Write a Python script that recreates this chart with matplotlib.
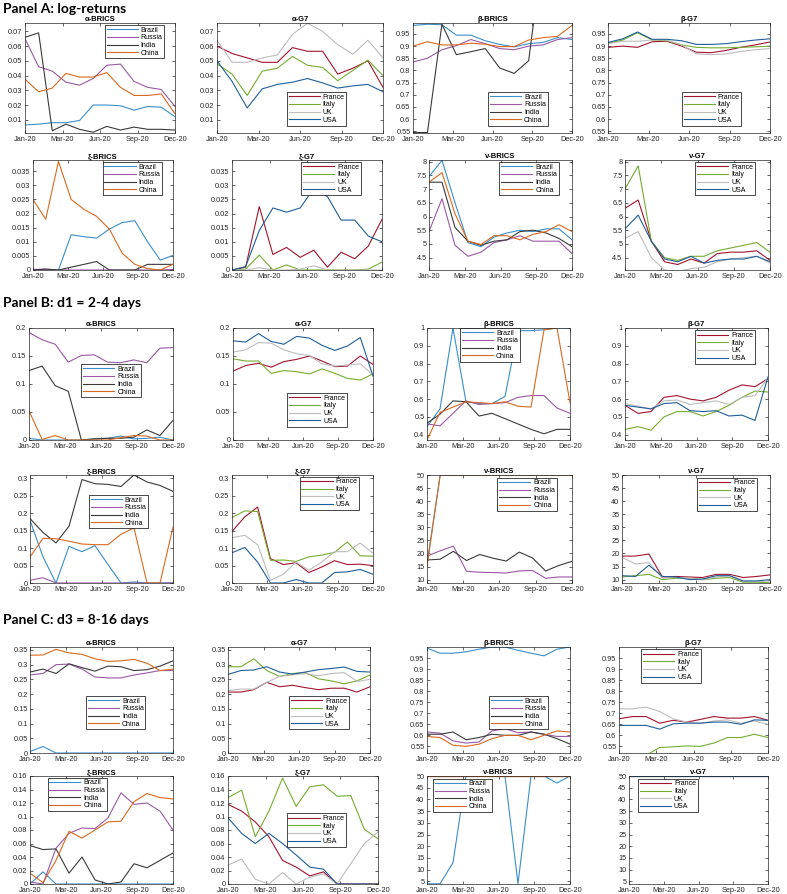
import numpy as np
import matplotlib
matplotlib.use('Agg')
import matplotlib.pyplot as plt
from matplotlib.ticker import FormatStrFormatter

plt.rcParams['font.family'] = ['Liberation Sans', 'DejaVu Sans']

tick_labels = ['Jan-20', 'Mar-20', 'Jun-20', 'Sep-20', 'Dec-20']
brics = ['Brazil', 'Russia', 'India', 'China']
g7 = ['France', 'Italy', 'UK', 'USA']
brics_colors = ['#3A8FC9', '#9B59A6', '#3A3A3A', '#D9691F']
g7_colors = ['#A2142F', '#77AC30', '#BDBDBD', '#1F5F99']

# ---- Panel A: log-returns (Brazil/Russia/India/China, France/Italy/UK/USA) ----
a_alpha_brics = [
    [0.0065, 0.007, 0.008, 0.008, 0.0095, 0.020, 0.020, 0.0195, 0.0165, 0.019, 0.0185, 0.012],
    [0.065, 0.046, 0.043, 0.0355, 0.0335, 0.038, 0.047, 0.0478, 0.036, 0.032, 0.0305, 0.019],
    [0.066, 0.069, 0.0025, 0.007, 0.0035, 0.0015, 0.0055, 0.003, 0.005, 0.0035, 0.0035, 0.003],
    [0.0375, 0.029, 0.0315, 0.0415, 0.039, 0.039, 0.042, 0.032, 0.0265, 0.0265, 0.0275, 0.014],
]
a_alpha_g7 = [
    [0.060, 0.055, 0.052, 0.049, 0.049, 0.059, 0.0565, 0.0565, 0.041, 0.045, 0.050, 0.032],
    [0.048, 0.041, 0.0265, 0.043, 0.045, 0.053, 0.047, 0.0455, 0.0365, 0.0435, 0.0505, 0.040],
    [0.064, 0.049, 0.049, 0.052, 0.054, 0.068, 0.0755, 0.070, 0.061, 0.0545, 0.064, 0.052],
    [0.050, 0.036, 0.018, 0.031, 0.034, 0.0355, 0.038, 0.035, 0.0315, 0.033, 0.034, 0.029],
]
a_beta_brics = [
    [0.985, 0.99, 0.988, 0.945, 0.945, 0.922, 0.907, 0.897, 0.91, 0.915, 0.935, 0.927],
    [0.835, 0.85, 0.885, 0.902, 0.927, 0.91, 0.89, 0.885, 0.90, 0.905, 0.927, 0.935],
    [0.545, 0.545, 0.99, 0.865, 0.877, 0.89, 0.81, 0.788, 0.84, 1.3, 1.3, 1.3],
    [0.90, 0.918, 0.905, 0.905, 0.912, 0.908, 0.898, 0.898, 0.925, 0.935, 0.94, 0.985],
]
a_beta_g7 = [
    [0.895, 0.90, 0.895, 0.918, 0.92, 0.90, 0.875, 0.873, 0.882, 0.895, 0.905, 0.917],
    [0.912, 0.925, 0.955, 0.925, 0.922, 0.905, 0.895, 0.893, 0.893, 0.895, 0.897, 0.90],
    [0.91, 0.92, 0.92, 0.925, 0.925, 0.905, 0.868, 0.865, 0.868, 0.878, 0.885, 0.89],
    [0.915, 0.93, 0.958, 0.928, 0.928, 0.922, 0.907, 0.907, 0.91, 0.918, 0.925, 0.93],
]
a_xi_brics = [
    [0.0, 0.0, 0.0, 0.0125, 0.0118, 0.0113, 0.0145, 0.0168, 0.0175, 0.010, 0.0035, 0.0052],
    [0.0002, 0.0003, 0.0, 0.0, 0.0, 0.0, 0.0, 0.0, 0.0, 0.0, 0.0, 0.0002],
    [0.0, 0.0003, 0.0, 0.001, 0.002, 0.003, 0.0, 0.0, 0.0, 0.002, 0.002, 0.002],
    [0.025, 0.018, 0.0385, 0.025, 0.0215, 0.019, 0.0145, 0.006, 0.002, 0.0005, 0.0, 0.002],
]
a_xi_g7 = [
    [0.0, 0.001, 0.0225, 0.0055, 0.008, 0.0045, 0.007, 0.001, 0.0063, 0.004, 0.0085, 0.018],
    [0.0, 0.0003, 0.0053, 0.0, 0.0018, 0.0, 0.0, 0.0, 0.0, 0.0, 0.0003, 0.0028],
    [0.0, 0.0, 0.0008, 0.0, 0.0, 0.0003, 0.0015, 0.0, 0.0, 0.0, 0.0, 0.0],
    [0.0, 0.0012, 0.014, 0.022, 0.0205, 0.022, 0.029, 0.026, 0.0177, 0.0177, 0.012, 0.010],
]
a_nu_brics = [
    [7.45, 8.05, 6.5, 5.05, 4.9, 5.25, 5.4, 5.5, 5.45, 5.55, 5.55, 5.15],
    [5.45, 6.65, 4.95, 4.55, 4.7, 5.05, 5.15, 5.3, 5.1, 5.1, 5.1, 4.65],
    [7.25, 7.25, 5.6, 5.1, 4.95, 5.1, 5.15, 5.45, 5.5, 5.4, 5.2, 4.9],
    [7.25, 7.6, 6.1, 5.1, 4.98, 5.3, 5.3, 5.15, 5.35, 5.45, 5.7, 5.45],
]
a_nu_g7 = [
    [6.3, 6.6, 5.1, 4.35, 4.25, 4.45, 4.3, 4.65, 4.7, 4.7, 4.75, 4.4],
    [7.0, 7.85, 5.1, 4.5, 4.4, 4.55, 4.55, 4.75, 4.85, 4.95, 5.05, 4.7],
    [5.2, 5.45, 4.5, 4.05, 4.0, 4.1, 4.15, 4.35, 4.45, 4.5, 4.55, 4.3],
    [5.55, 6.05, 5.1, 4.45, 4.35, 4.55, 4.3, 4.4, 4.45, 4.45, 4.55, 4.35],
]

# ---- Panel B: d1 = 2-4 days ----
b_alpha_brics = [
    [0.003, 0.0, 0.0, 0.0, 0.0, 0.002, 0.003, 0.007, 0.002, 0.003, 0.005, 0.0],
    [0.192, 0.179, 0.171, 0.139, 0.151, 0.152, 0.139, 0.138, 0.143, 0.138, 0.164, 0.165],
    [0.124, 0.132, 0.097, 0.087, 0.0, 0.002, 0.003, 0.003, 0.005, 0.018, 0.008, 0.035],
    [0.052, 0.001, 0.008, 0.0, 0.0, 0.0, 0.0, 0.004, 0.008, 0.007, 0.0, 0.0],
]
b_alpha_g7 = [
    [0.123, 0.133, 0.137, 0.130, 0.140, 0.144, 0.150, 0.141, 0.131, 0.132, 0.150, 0.135],
    [0.145, 0.141, 0.141, 0.119, 0.124, 0.122, 0.118, 0.127, 0.119, 0.110, 0.107, 0.118],
    [0.157, 0.161, 0.174, 0.173, 0.161, 0.154, 0.151, 0.136, 0.132, 0.134, 0.136, 0.116],
    [0.177, 0.175, 0.190, 0.176, 0.171, 0.185, 0.182, 0.169, 0.160, 0.168, 0.183, 0.114],
]
b_beta_brics = [
    [0.445, 0.545, 1.0, 0.585, 0.575, 0.575, 0.615, 0.985, 0.985, 0.99, 1.0, 1.0],
    [0.46, 0.45, 0.52, 0.59, 0.57, 0.575, 0.58, 0.61, 0.62, 0.62, 0.55, 0.52],
    [0.465, 0.515, 0.59, 0.585, 0.505, 0.52, 0.49, 0.46, 0.43, 0.405, 0.43, 0.43],
    [0.37, 0.525, 0.555, 0.585, 0.58, 0.575, 0.585, 0.56, 0.555, 0.99, 1.0, 0.58],
]
b_beta_g7 = [
    [0.565, 0.52, 0.53, 0.61, 0.62, 0.60, 0.59, 0.61, 0.65, 0.68, 0.67, 0.715],
    [0.43, 0.445, 0.425, 0.50, 0.53, 0.53, 0.505, 0.53, 0.565, 0.61, 0.645, 0.64],
    [0.575, 0.56, 0.545, 0.59, 0.595, 0.57, 0.58, 0.59, 0.57, 0.61, 0.62, 0.72],
    [0.565, 0.555, 0.545, 0.575, 0.58, 0.535, 0.53, 0.535, 0.505, 0.51, 0.48, 0.725],
]
b_xi_brics = [
    [0.18, 0.075, 0.0, 0.105, 0.09, 0.107, 0.053, 0.0, 0.003, 0.0, 0.0, 0.0],
    [0.008, 0.015, 0.0, 0.0, 0.0, 0.0, 0.0, 0.0, 0.0, 0.0, 0.0, 0.0],
    [0.185, 0.145, 0.115, 0.163, 0.297, 0.285, 0.283, 0.277, 0.31, 0.29, 0.28, 0.263],
    [0.075, 0.128, 0.127, 0.12, 0.112, 0.11, 0.11, 0.14, 0.158, 0.0, 0.0, 0.16],
]
b_xi_g7 = [
    [0.148, 0.19, 0.218, 0.07, 0.053, 0.058, 0.03, 0.046, 0.064, 0.053, 0.054, 0.05],
    [0.188, 0.207, 0.205, 0.065, 0.066, 0.062, 0.075, 0.08, 0.088, 0.118, 0.078, 0.077],
    [0.13, 0.137, 0.11, 0.008, 0.025, 0.06, 0.037, 0.06, 0.09, 0.09, 0.115, 0.085],
    [0.087, 0.102, 0.06, 0.0, 0.0, 0.01, 0.0, 0.0, 0.03, 0.032, 0.039, 0.025],
]
b_nu_brics = [
    [16, 50, 50, 50, 50, 50, 50, 50, 50, 50, 50, 50],
    [19, 21, 22.8, 13.2, 12.8, 12.7, 12.5, 13.3, 13.5, 10.5, 11, 11],
    [17.5, 17.8, 20.8, 17.3, 19.6, 18.2, 17.1, 20.5, 18.3, 13.3, 15.4, 17.0],
    [15, 50, 50, 50, 50, 50, 50, 50, 50, 50, 50, 50],
]
b_nu_g7 = [
    [19, 19, 19.8, 11, 11.2, 11, 10.8, 12, 12, 10.8, 11.2, 11.8],
    [11, 11.5, 12, 10, 10.5, 10.5, 10, 10.5, 10.8, 9, 9, 8.8],
    [18.5, 16, 16.5, 10.5, 10.8, 10.5, 10, 11, 11.5, 9.5, 9.2, 9.5],
    [11.5, 11.2, 15.5, 11.2, 11, 10, 10.2, 11.5, 11.5, 9.5, 9.5, 10],
]

# ---- Panel C: d3 = 8-16 days ----
c_alpha_brics = [
    [0.005, 0.022, 0.0, 0.0, 0.0, 0.0, 0.0, 0.0, 0.0, 0.0, 0.0, 0.0],
    [0.265, 0.27, 0.30, 0.302, 0.285, 0.258, 0.255, 0.255, 0.265, 0.272, 0.28, 0.28],
    [0.275, 0.285, 0.27, 0.303, 0.29, 0.278, 0.295, 0.293, 0.28, 0.283, 0.295, 0.313],
    [0.332, 0.333, 0.352, 0.34, 0.335, 0.32, 0.311, 0.313, 0.318, 0.305, 0.28, 0.285],
]
c_alpha_g7 = [
    [0.207, 0.207, 0.215, 0.24, 0.225, 0.23, 0.222, 0.215, 0.22, 0.22, 0.207, 0.225],
    [0.293, 0.293, 0.32, 0.28, 0.26, 0.27, 0.273, 0.252, 0.245, 0.235, 0.245, 0.265],
    [0.212, 0.217, 0.217, 0.24, 0.26, 0.265, 0.27, 0.262, 0.27, 0.273, 0.243, 0.25],
    [0.267, 0.28, 0.282, 0.293, 0.275, 0.268, 0.275, 0.283, 0.287, 0.292, 0.277, 0.275],
]
c_beta_brics = [
    [0.995, 0.972, 0.972, 0.978, 0.99, 1.0, 1.0, 0.985, 0.972, 0.96, 0.99, 1.0],
    [0.615, 0.61, 0.575, 0.565, 0.57, 0.62, 0.63, 0.612, 0.615, 0.605, 0.595, 0.595],
    [0.605, 0.605, 0.615, 0.58, 0.59, 0.605, 0.60, 0.60, 0.615, 0.605, 0.585, 0.56],
    [0.595, 0.59, 0.555, 0.55, 0.56, 0.585, 0.60, 0.60, 0.58, 0.60, 0.62, 0.615],
]
c_beta_g7 = [
    [0.675, 0.685, 0.685, 0.655, 0.668, 0.66, 0.672, 0.685, 0.678, 0.678, 0.685, 0.668],
    [0.50, 0.50, 0.51, 0.545, 0.548, 0.552, 0.55, 0.565, 0.59, 0.59, 0.605, 0.59],
    [0.72, 0.72, 0.728, 0.708, 0.675, 0.66, 0.655, 0.665, 0.67, 0.655, 0.665, 0.65],
    [0.645, 0.645, 0.645, 0.628, 0.652, 0.655, 0.655, 0.66, 0.66, 0.65, 0.67, 0.668],
]
c_xi_brics = [
    [0.0, 0.018, 0.0, 0.0, 0.0, 0.0, 0.0, 0.0, 0.0, 0.0, 0.0, 0.0],
    [0.003, 0.0, 0.053, 0.075, 0.083, 0.082, 0.098, 0.135, 0.118, 0.12, 0.108, 0.08],
    [0.057, 0.051, 0.052, 0.016, 0.04, 0.006, 0.0, 0.003, 0.03, 0.024, 0.035, 0.046],
    [0.016, 0.002, 0.035, 0.078, 0.068, 0.08, 0.092, 0.093, 0.122, 0.134, 0.128, 0.126],
]
c_xi_g7 = [
    [0.118, 0.108, 0.092, 0.07, 0.035, 0.025, 0.012, 0.018, 0.0, 0.0, 0.0, 0.0],
    [0.128, 0.139, 0.07, 0.108, 0.157, 0.115, 0.144, 0.147, 0.13, 0.131, 0.081, 0.067],
    [0.028, 0.037, 0.007, 0.0, 0.017, 0.0, 0.01, 0.015, 0.0, 0.03, 0.06, 0.077],
    [0.098, 0.075, 0.06, 0.075, 0.06, 0.043, 0.025, 0.022, 0.0, 0.0, 0.0, 0.0],
]
c_nu_brics = [
    [4, 4, 13, 50, 50, 50, 50, 4, 50, 50, 47, 50],
    [50, 50, 50, 50, 50, 50, 50, 50, 50, 50, 50, 50],
    [50, 50, 50, 50, 50, 50, 50, 50, 50, 50, 50, 50],
    [50, 50, 50, 50, 50, 50, 50, 50, 50, 50, 50, 50],
]
c_nu_g7 = [
    [50, 50, 50, 50, 50, 50, 50, 50, 50, 50, 50, 50],
    [50, 50, 50, 50, 50, 50, 50, 50, 50, 50, 50, 50],
    [50, 50, 50, 50, 50, 50, 50, 50, 50, 50, 50, 50],
    [50, 50, 50, 50, 50, 50, 50, 50, 50, 50, 50, 50],
]

W, H = 787, 894
fig = plt.figure(figsize=(W / 100, H / 100), dpi=100)


def box(l, r, t, b):
    return [l / W, 1 - b / H, (r - l) / W, (b - t) / H]


def draw(pos, series, group, title, ylim, yticks, leg):
    ax = fig.add_axes(pos)
    names = brics if group == 'BRICS' else g7
    colors = brics_colors if group == 'BRICS' else g7_colors
    x = np.arange(len(series[0]))
    for vals, n, c in zip(series, names, colors):
        ax.plot(x, vals, color=c, lw=0.8, label=n)
    ax.set_xlim(0, len(x) - 1)
    ax.set_xticks(np.linspace(0, len(x) - 1, len(tick_labels)))
    ax.set_xticklabels(tick_labels)
    ax.set_ylim(*ylim)
    ax.set_yticks(yticks)
    ax.yaxis.set_major_formatter(FormatStrFormatter('%g'))
    ax.tick_params(direction='in', length=2, width=0.5, labelsize=5.3,
                   top=True, right=True, colors='#262626')
    ax.tick_params(axis='x', pad=2.2)
    ax.tick_params(axis='y', pad=1.8)
    for s in ax.spines.values():
        s.set_linewidth(0.5)
        s.set_color('#262626')
    ax.set_title(title + '-' + group, fontsize=5.5, fontweight='bold', pad=1.2)
    ax.legend(loc='center', bbox_to_anchor=leg, fontsize=5, handlelength=4.5,
              handletextpad=0.4, borderpad=0.25, labelspacing=0.1, fancybox=False,
              edgecolor='black', framealpha=1).get_frame().set_linewidth(0.5)
    return ax


def panel(label, ty, rows):
    fig.text(3 / W, 1 - ty / H, label, fontsize=10, fontweight='bold',
             family=['Lato', 'DejaVu Sans'], va='center', ha='left')
    for (t, b, cols, items) in rows:
        for (l, r), (series, group, title, ylim, yticks, leg) in zip(cols, items):
            draw(box(l, r, t, b), series, group, title, ylim, yticks, leg)


# Panel A
ya = np.arange(0.01, 0.0701, 0.01)
yb = np.arange(0.55, 0.951, 0.05)
yx = np.arange(0, 0.0351, 0.005)
yn = np.arange(4.5, 8.01, 0.5)
panel('Panel A: log-returns', 9, [
    (23, 133, [(25, 175), (217, 383), (413, 572), (608, 770)], [
        (a_alpha_brics, 'BRICS', 'α', (0.001, 0.0757), ya, (0.73, 0.83)),
        (a_alpha_g7, 'G7', 'α', (0.001, 0.0757), ya, (0.6, 0.22)),
        (a_beta_brics, 'BRICS', 'β', (0.543, 0.995), yb, (0.66, 0.22)),
        (a_beta_g7, 'G7', 'β', (0.543, 0.995), yb, (0.64, 0.22)),
    ]),
    (160, 270, [(33, 173), (232, 382), (429, 572), (625, 770)], [
        (a_xi_brics, 'BRICS', 'ξ', (0, 0.039), yx, (0.71, 0.83)),
        (a_xi_g7, 'G7', 'ξ', (0, 0.039), yx, (0.66, 0.83)),
        (a_nu_brics, 'BRICS', 'ν', (4.05, 8.06), yn, (0.70, 0.83)),
        (a_nu_g7, 'G7', 'ν', (4.05, 8.06), yn, (0.69, 0.83)),
    ]),
])

# Panel B
ya = np.arange(0, 0.201, 0.05)
yb = np.arange(0.4, 1.01, 0.1)
yx = np.arange(0, 0.301, 0.05)
yn = np.arange(10, 50.1, 5)
panel('Panel B: d1 = 2-4 days', 303, [
    (328, 440, [(29, 173), (233, 373), (427, 570), (625, 768)], [
        (b_alpha_brics, 'BRICS', 'α', (0, 0.2), ya, (0.57, 0.53)),
        (b_alpha_g7, 'G7', 'α', (0, 0.2), ya, (0.6, 0.27)),
        (b_beta_brics, 'BRICS', 'β', (0.37, 1.0), yb, (0.44, 0.85)),
        (b_beta_g7, 'G7', 'β', (0.37, 1.0), yb, (0.70, 0.83)),
    ]),
    (475, 583, [(30, 173), (232, 373), (427, 572), (622, 770)], [
        (b_xi_brics, 'BRICS', 'ξ', (0, 0.31), yx, (0.62, 0.66)),
        (b_xi_g7, 'G7', 'ξ', (0, 0.31), yx, (0.69, 0.83)),
        (b_nu_brics, 'BRICS', 'ν', (8.7, 50), yn, (0.69, 0.82)),
        (b_nu_g7, 'G7', 'ν', (8.7, 50), yn, (0.71, 0.82)),
    ]),
])

# Panel C
ya = np.arange(0, 0.351, 0.05)
yb = np.arange(0.55, 0.951, 0.05)
yx = np.arange(0, 0.161, 0.02)
yn = np.arange(5, 50.1, 5)
panel('Panel C: d3 = 8-16 days', 620, [
    (647, 753, [(30, 173), (228, 370), (427, 570), (619, 768)], [
        (c_alpha_brics, 'BRICS', 'α', (0, 0.36), ya, (0.6, 0.38)),
        (c_alpha_g7, 'G7', 'α', (0, 0.36), ya, (0.64, 0.38)),
        (c_beta_brics, 'BRICS', 'β', (0.52, 1.0), yb, (0.64, 0.38)),
        (c_beta_g7, 'G7', 'β', (0.52, 1.0), yb, (0.35, 0.82)),
    ]),
    (776, 884, [(30, 173), (228, 378), (427, 570), (629, 768)], [
        (c_xi_brics, 'BRICS', 'ξ', (0, 0.16), yx, (0.33, 0.83)),
        (c_xi_g7, 'G7', 'ξ', (0, 0.16), yx, (0.59, 0.50)),
        (c_nu_brics, 'BRICS', 'ν', (3.9, 50), yn, (0.25, 0.82)),
        (c_nu_g7, 'G7', 'ν', (3.9, 50), yn, (0.28, 0.82)),
    ]),
])

fig.savefig('out.png', dpi=100)
